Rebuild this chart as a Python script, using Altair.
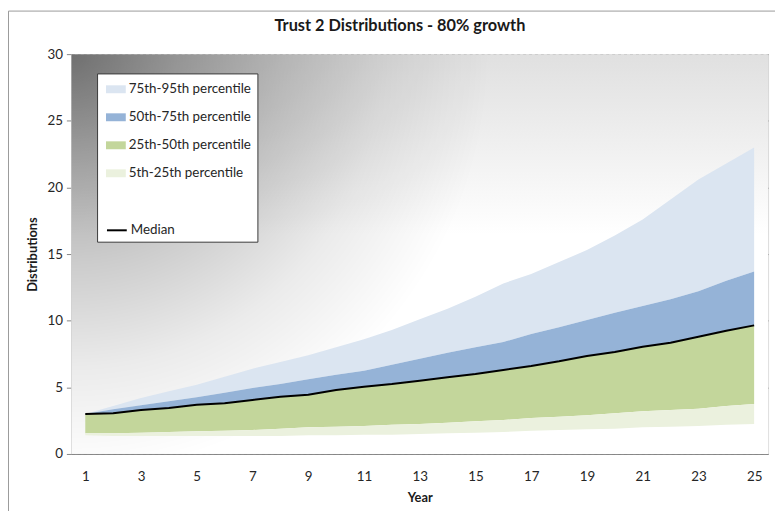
import altair as alt
import pandas as pd

# ---- data ----
years = list(range(1, 26))
p95 = [3.0, 3.6, 4.2, 4.7, 5.2, 5.8, 6.4, 6.9, 7.4, 8.0, 8.6, 9.3, 10.1, 10.9, 11.8,
       12.8, 13.5, 14.4, 15.3, 16.4, 17.6, 19.1, 20.6, 21.8, 23.0]
p75 = [3.0, 3.35, 3.65, 3.95, 4.25, 4.6, 4.95, 5.25, 5.6, 5.95, 6.25, 6.7, 7.15, 7.6, 8.0,
       8.4, 9.0, 9.5, 10.05, 10.6, 11.1, 11.6, 12.2, 13.0, 13.7]
p50 = [3.0, 3.05, 3.3, 3.45, 3.7, 3.8, 4.05, 4.3, 4.45, 4.8, 5.05, 5.25, 5.5, 5.75, 6.0,
       6.3, 6.6, 6.95, 7.35, 7.65, 8.05, 8.35, 8.8, 9.25, 9.65]
p25 = [1.55, 1.55, 1.6, 1.65, 1.7, 1.75, 1.8, 1.9, 2.0, 2.05, 2.1, 2.2, 2.25, 2.35, 2.45,
       2.55, 2.7, 2.8, 2.9, 3.05, 3.2, 3.3, 3.4, 3.6, 3.75]
p5 = [1.4, 1.35, 1.35, 1.35, 1.35, 1.35, 1.35, 1.35, 1.4, 1.4, 1.45, 1.45, 1.5, 1.55, 1.6,
      1.65, 1.75, 1.8, 1.85, 1.9, 2.0, 2.05, 2.1, 2.2, 2.25]

band_names = ["75th-95th percentile", "50th-75th percentile",
              "25th-50th percentile", "5th-25th percentile"]
band_colors = ["#dbe5f1", "#95b3d7", "#c3d69b", "#ebf1de"]
band_lo = [p75, p50, p25, p5]
band_hi = [p95, p75, p50, p25]

x_ticks = list(range(1, 26, 2))
y_ticks = [0, 5, 10, 15, 20, 25, 30]

W, H = 704, 404
FONT = "Lato"

rows = []
for name, lo, hi in zip(band_names, band_lo, band_hi):
    for yr, a, b in zip(years, lo, hi):
        rows.append({"year": yr, "series": name, "lo": a, "hi": b})
bands_df = pd.DataFrame(rows)
median_df = pd.DataFrame({"year": years, "lo": p50, "series": ["Median"] * len(years)})

x_scale = alt.Scale(domain=[0.5, 25.5], nice=False, zero=False)
y_scale = alt.Scale(domain=[0, 30], nice=False)

x_axis = alt.Axis(values=x_ticks, title="Year", grid=False, ticks=False,
                  labelPadding=16, labelFontSize=13.5, labelFont=FONT, labelColor="#262626",
                  titleFont=FONT, titleFontSize=13, titleFontWeight="bold", titleColor="#1a1a1a",
                  titlePadding=9, domainColor="#868686", labelFlush=False)
y_axis = alt.Axis(values=y_ticks, title="Distributions", grid=True, gridDash=[3, 3],
                  gridColor="#8c8c8c", gridWidth=1, tickColor="#868686", tickSize=5,
                  labelPadding=4, labelFontSize=13.5, labelFont=FONT, labelColor="#262626",
                  titleFont=FONT, titleFontSize=13, titleFontWeight="bold", titleColor="#1a1a1a",
                  titlePadding=8, domainColor="#868686")

# background gradients (plot area)
one = pd.DataFrame({"k": [0]})
bg_lin = alt.Chart(one).mark_rect(
    fill=alt.LinearGradient(gradient="linear", x1=0, y1=0, x2=0, y2=1,
                            stops=[alt.GradientStop(offset=0, color="#e0e0e0"),
                                   alt.GradientStop(offset=0.45, color="#ffffff"),
                                   alt.GradientStop(offset=1, color="#ffffff")])
).encode(x=alt.value(0), x2=alt.value(W), y=alt.value(0), y2=alt.value(H))

bg_rad = alt.Chart(one).mark_rect(
    fill=alt.RadialGradient(gradient="radial", x1=0, y1=0.213, r1=0, x2=0, y2=0.213, r2=1,
                            stops=[alt.GradientStop(offset=0, color="rgba(0,0,0,0.5)"),
                                   alt.GradientStop(offset=0.15, color="rgba(0,0,0,0.34)"),
                                   alt.GradientStop(offset=0.3, color="rgba(0,0,0,0.2)"),
                                   alt.GradientStop(offset=0.45, color="rgba(0,0,0,0.08)"),
                                   alt.GradientStop(offset=0.6, color="rgba(0,0,0,0)")])
).encode(x=alt.value(0), x2=alt.value(W), y=alt.value(0), y2=alt.value(H))

# outer chart frame (only top and left edges visible)
frame = alt.Chart(one).mark_rect(fill="transparent", stroke="#9a9a9a", strokeWidth=1).encode(
    x=alt.value(-63.5), x2=alt.value(W + 60), y=alt.value(-43.5), y2=alt.value(H + 80))

LEG_X, LEG_Y, LEG_PAD, ROW_PAD = 26, 19.5, 6, 11.3
LEG_FS = 13.5

fill_legend = alt.Legend(
    title=None, orient="none", legendX=LEG_X, legendY=LEG_Y, fillColor="white",
    strokeColor="#3a3a3a", padding=LEG_PAD, symbolOffset=3,
    symbolType="M-1,-0.4H1V0.4H-1Z", symbolSize=400, symbolStrokeWidth=0,
    labelFont=FONT, labelFontSize=LEG_FS, labelColor="#262626", labelOffset=3,
    rowPadding=ROW_PAD, labelLimit=200)

areas = alt.Chart(bands_df).mark_area(opacity=1, interpolate="linear").encode(
    x=alt.X("year:Q", scale=x_scale, axis=x_axis),
    y=alt.Y("lo:Q", scale=y_scale, axis=y_axis),
    y2="hi:Q",
    fill=alt.Fill("series:N",
                  scale=alt.Scale(domain=band_names + [" ", "  "],
                                  range=band_colors + ["#ffffff", "#ffffff"]),
                  legend=fill_legend),
    detail="series:N",
)

stroke_legend = alt.Legend(
    title=None, orient="none", legendX=LEG_X, legendY=LEG_Y + 141.5, padding=LEG_PAD,
    symbolOffset=3, symbolType="stroke", symbolSize=400, symbolStrokeWidth=2,
    labelFont=FONT, labelFontSize=LEG_FS, labelColor="#262626", labelOffset=3)

median = alt.Chart(median_df).mark_line(strokeWidth=2).encode(
    x=alt.X("year:Q", scale=x_scale),
    y=alt.Y("lo:Q", scale=y_scale),
    stroke=alt.Stroke("series:N", scale=alt.Scale(domain=["Median"], range=["#000000"]),
                      legend=stroke_legend),
)

chart = alt.layer(bg_lin, bg_rad, areas, median, frame).properties(
    width=W, height=H,
    title=alt.Title("Trust 2 Distributions - 80% growth", font=FONT, fontSize=16.5,
                    fontWeight="bold", color="#1a1a1a", anchor="middle", frame="group",
                    dx=-20, dy=24, offset=0),
    autosize=alt.AutoSizeParams(type="none"),
    padding={"left": 64, "top": 44, "right": 7, "bottom": 55},
).configure_view(stroke="#868686", strokeWidth=1).configure(background="white"
).configure_legend(strokeWidth=1)

chart.save("out.html", embed_options={"renderer": "svg", "actions": False})
